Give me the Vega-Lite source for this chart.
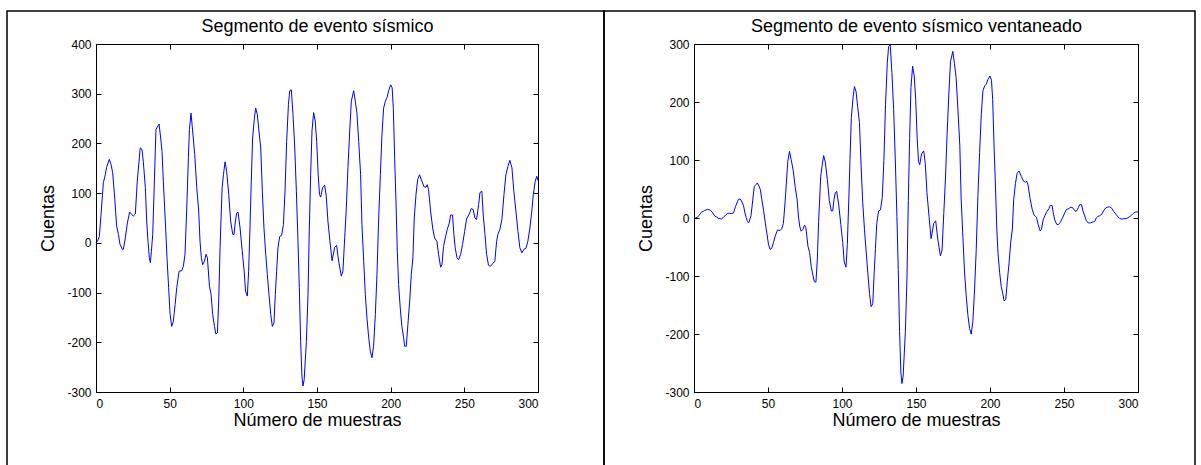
{
  "$schema": "https://vega.github.io/schema/vega-lite/v6.json",
  "padding": {"left": 6, "top": 10, "right": 1, "bottom": 0},
  "background": "white",
  "spacing": 0,
  "bounds": "flush",
  "datasets": {
    "raw": [
      {"n":0,"v":0},{"n":1,"v":3},{"n":2.3,"v":13},{"n":3.4,"v":57},{"n":5,"v":121},{"n":6.3,"v":137},{"n":7.2,"v":152},{"n":9,"v":168},{"n":10.2,"v":158},{"n":11.3,"v":141},{"n":12.7,"v":90},{"n":14,"v":34},{"n":15.2,"v":17},{"n":16.3,"v":-3},{"n":17.9,"v":-13},{"n":18.6,"v":-13},{"n":19.9,"v":10},{"n":21.3,"v":40},{"n":22.8,"v":62},{"n":24.2,"v":57},{"n":25.3,"v":54},{"n":26.7,"v":58},{"n":28,"v":124},{"n":29.4,"v":171},{"n":30,"v":191},{"n":31.2,"v":188},{"n":32.1,"v":164},{"n":33.5,"v":111},{"n":34.4,"v":44},{"n":35.3,"v":3},{"n":36.2,"v":-30},{"n":36.9,"v":-40},{"n":37.6,"v":-17},{"n":38.5,"v":17},{"n":39.4,"v":104},{"n":40.7,"v":228},{"n":42,"v":235},{"n":42.8,"v":239},{"n":43.9,"v":211},{"n":44.8,"v":184},{"n":45.7,"v":124},{"n":47.1,"v":40},{"n":48.2,"v":-30},{"n":49.3,"v":-90},{"n":50.3,"v":-144},{"n":51.4,"v":-168},{"n":52.5,"v":-158},{"n":53.7,"v":-124},{"n":54.8,"v":-90},{"n":56.4,"v":-57},{"n":58.2,"v":-56},{"n":59.3,"v":-47},{"n":60.4,"v":-23},{"n":61.6,"v":70},{"n":62.7,"v":171},{"n":63.4,"v":228},{"n":64.5,"v":261},{"n":65.6,"v":225},{"n":67,"v":178},{"n":68.4,"v":111},{"n":69.7,"v":64},{"n":70.6,"v":3},{"n":71.5,"v":-30},{"n":72.4,"v":-44},{"n":73.6,"v":-37},{"n":74.7,"v":-23},{"n":75.6,"v":-30},{"n":77,"v":-87},{"n":78.1,"v":-104},{"n":79.2,"v":-144},{"n":80.4,"v":-168},{"n":81.3,"v":-183},{"n":82.4,"v":-181},{"n":83.3,"v":-117},{"n":84.2,"v":-10},{"n":85.6,"v":111},{"n":86.5,"v":137},{"n":87.6,"v":163},{"n":88.7,"v":144},{"n":90.1,"v":97},{"n":91.4,"v":44},{"n":92.8,"v":17},{"n":93.7,"v":17},{"n":94.6,"v":44},{"n":95.5,"v":60},{"n":96.4,"v":62},{"n":97.8,"v":30},{"n":99.2,"v":-15},{"n":100.5,"v":-55},{"n":101.5,"v":-97},{"n":102.7,"v":-107},{"n":103.6,"v":-57},{"n":104.5,"v":30},{"n":105.4,"v":124},{"n":106.3,"v":211},{"n":107.5,"v":251},{"n":108.4,"v":271},{"n":109.5,"v":258},{"n":110.6,"v":225},{"n":111.8,"v":191},{"n":112.9,"v":104},{"n":114,"v":30},{"n":115.2,"v":-23},{"n":116.3,"v":-64},{"n":117.4,"v":-104},{"n":118.6,"v":-144},{"n":119.7,"v":-168},{"n":120.8,"v":-161},{"n":121.7,"v":-104},{"n":122.6,"v":-57},{"n":123.5,"v":-10},{"n":124.7,"v":13},{"n":126,"v":15},{"n":127.2,"v":37},{"n":128.3,"v":104},{"n":129.4,"v":204},{"n":130.6,"v":278},{"n":131.5,"v":306},{"n":132.6,"v":308},{"n":133.7,"v":258},{"n":134.9,"v":191},{"n":136,"v":104},{"n":137.1,"v":3},{"n":138,"v":-90},{"n":138.9,"v":-198},{"n":139.8,"v":-270},{"n":140.5,"v":-288},{"n":141.3,"v":-275},{"n":142.8,"v":-198},{"n":143.9,"v":-104},{"n":144.8,"v":30},{"n":145.7,"v":137},{"n":146.6,"v":225},{"n":147.7,"v":262},{"n":148.8,"v":245},{"n":149.8,"v":204},{"n":150.8,"v":137},{"n":151.7,"v":97},{"n":152.5,"v":92},{"n":153.8,"v":111},{"n":155.2,"v":116},{"n":156.3,"v":94},{"n":157.4,"v":44},{"n":158.8,"v":3},{"n":160.2,"v":-36},{"n":162,"v":-9},{"n":163.3,"v":-5},{"n":164.7,"v":-37},{"n":166.5,"v":-67},{"n":167.6,"v":-57},{"n":168.8,"v":10},{"n":169.9,"v":70},{"n":171,"v":151},{"n":172.2,"v":225},{"n":173.3,"v":285},{"n":174.9,"v":306},{"n":176,"v":285},{"n":177.1,"v":261},{"n":178.3,"v":204},{"n":179.6,"v":137},{"n":180.5,"v":37},{"n":181.7,"v":-37},{"n":182.8,"v":-104},{"n":183.9,"v":-151},{"n":185.1,"v":-191},{"n":186.2,"v":-218},{"n":187.3,"v":-231},{"n":188.4,"v":-208},{"n":189.6,"v":-144},{"n":190.7,"v":-64},{"n":191.8,"v":44},{"n":193,"v":137},{"n":194.1,"v":218},{"n":195.2,"v":271},{"n":196.4,"v":285},{"n":197.5,"v":292},{"n":198.6,"v":306},{"n":200,"v":318},{"n":201,"v":312},{"n":201.8,"v":271},{"n":202.7,"v":171},{"n":203.6,"v":84},{"n":204.5,"v":-17},{"n":205.4,"v":-84},{"n":206.5,"v":-131},{"n":207.6,"v":-168},{"n":208.8,"v":-191},{"n":209.5,"v":-208},{"n":210.6,"v":-208},{"n":211.7,"v":-164},{"n":212.9,"v":-117},{"n":214,"v":-64},{"n":215.1,"v":-30},{"n":216,"v":50},{"n":217.2,"v":97},{"n":218.3,"v":127},{"n":219.6,"v":137},{"n":221.2,"v":124},{"n":222.6,"v":113},{"n":224,"v":112},{"n":224.8,"v":117},{"n":225.7,"v":107},{"n":227.1,"v":64},{"n":228.5,"v":30},{"n":229.8,"v":10},{"n":231.4,"v":3},{"n":232.5,"v":-23},{"n":233.9,"v":-49},{"n":234.8,"v":-44},{"n":235.9,"v":-7},{"n":237.1,"v":10},{"n":238.4,"v":27},{"n":239.8,"v":40},{"n":240.7,"v":56},{"n":242,"v":56},{"n":242.9,"v":17},{"n":243.8,"v":-10},{"n":245,"v":-30},{"n":246.1,"v":-34},{"n":247.5,"v":-23},{"n":248.8,"v":-3},{"n":250.2,"v":23},{"n":251.5,"v":48},{"n":253.3,"v":58},{"n":254.7,"v":69},{"n":256,"v":67},{"n":257.2,"v":50},{"n":258.3,"v":47},{"n":259.7,"v":77},{"n":260.6,"v":101},{"n":261.9,"v":104},{"n":262.8,"v":57},{"n":264,"v":17},{"n":265.1,"v":-23},{"n":266.4,"v":-45},{"n":267.8,"v":-47},{"n":269.2,"v":-42},{"n":270.7,"v":-37},{"n":271.9,"v":3},{"n":272.8,"v":17},{"n":274.1,"v":27},{"n":275.5,"v":47},{"n":276.9,"v":97},{"n":278.2,"v":137},{"n":279.6,"v":154},{"n":280.9,"v":166},{"n":282.3,"v":151},{"n":283.6,"v":104},{"n":285,"v":64},{"n":286.4,"v":23},{"n":287.7,"v":-10},{"n":289.1,"v":-20},{"n":290.4,"v":-13},{"n":291.8,"v":-11},{"n":293.1,"v":3},{"n":294.5,"v":30},{"n":295.8,"v":64},{"n":296.8,"v":97},{"n":298.1,"v":124},{"n":299.2,"v":134},{"n":300,"v":125}
    ],
    "win": [
      {"n":0,"v":0},{"n":1,"v":0.2},{"n":2.3,"v":1},{"n":3.4,"v":4.6},{"n":5,"v":10},{"n":6.3,"v":11.5},{"n":7.2,"v":13},{"n":9,"v":14.8},{"n":10.2,"v":14.3},{"n":11.3,"v":13.1},{"n":12.7,"v":8.7},{"n":14,"v":3.4},{"n":15.2,"v":1.8},{"n":16.3,"v":-0.3},{"n":17.9,"v":-1.5},{"n":18.6,"v":-1.5},{"n":19.9,"v":1.2},{"n":21.3,"v":5},{"n":22.8,"v":8.2},{"n":24.2,"v":7.9},{"n":25.3,"v":7.7},{"n":26.7,"v":8.7},{"n":28,"v":19.5},{"n":29.4,"v":28.1},{"n":30,"v":32.1},{"n":31.2,"v":32.8},{"n":32.1,"v":29.6},{"n":33.5,"v":20.9},{"n":34.4,"v":8.6},{"n":35.3,"v":0.6},{"n":36.2,"v":-6.2},{"n":36.9,"v":-8.4},{"n":37.6,"v":-3.7},{"n":38.5,"v":3.8},{"n":39.4,"v":23.7},{"n":40.7,"v":54.1},{"n":42,"v":58},{"n":42.8,"v":60.4},{"n":43.9,"v":55.1},{"n":44.8,"v":49.3},{"n":45.7,"v":34.1},{"n":47.1,"v":11.4},{"n":48.2,"v":-8.9},{"n":49.3,"v":-27.4},{"n":50.3,"v":-45},{"n":51.4,"v":-54.1},{"n":52.5,"v":-52.3},{"n":53.7,"v":-42.4},{"n":54.8,"v":-31.6},{"n":56.4,"v":-20.8},{"n":58.2,"v":-21.4},{"n":59.3,"v":-18.4},{"n":60.4,"v":-9.2},{"n":61.6,"v":28.9},{"n":62.7,"v":72.3},{"n":63.4,"v":97.9},{"n":64.5,"v":114.8},{"n":65.6,"v":101.3},{"n":67,"v":82.5},{"n":68.4,"v":52.9},{"n":69.7,"v":31.3},{"n":70.6,"v":1.5},{"n":71.5,"v":-15.2},{"n":72.4,"v":-22.7},{"n":73.6,"v":-19.5},{"n":74.7,"v":-12.4},{"n":75.6,"v":-16.4},{"n":77,"v":-48.7},{"n":78.1,"v":-59.3},{"n":79.2,"v":-83.6},{"n":80.4,"v":-99.4},{"n":81.3,"v":-109.9},{"n":82.4,"v":-110.6},{"n":83.3,"v":-72.5},{"n":84.2,"v":-6.3},{"n":85.6,"v":71.2},{"n":86.5,"v":89},{"n":87.6,"v":107.6},{"n":88.7,"v":96.5},{"n":90.1,"v":66.3},{"n":91.4,"v":30.6},{"n":92.8,"v":12},{"n":93.7,"v":12.2},{"n":94.6,"v":31.8},{"n":95.5,"v":43.9},{"n":96.4,"v":45.8},{"n":97.8,"v":22.5},{"n":99.2,"v":-11.4},{"n":100.5,"v":-42.6},{"n":101.5,"v":-75.9},{"n":102.7,"v":-84.8},{"n":103.6,"v":-45.6},{"n":104.5,"v":24.2},{"n":105.4,"v":100.9},{"n":106.3,"v":173.1},{"n":107.5,"v":208.2},{"n":108.4,"v":226.6},{"n":109.5,"v":217.8},{"n":110.6,"v":191.7},{"n":111.8,"v":164.4},{"n":112.9,"v":90.3},{"n":114,"v":26.3},{"n":115.2,"v":-20.3},{"n":116.3,"v":-57},{"n":117.4,"v":-93.3},{"n":118.6,"v":-130.2},{"n":119.7,"v":-153},{"n":120.8,"v":-147.6},{"n":121.7,"v":-95.8},{"n":122.6,"v":-52.8},{"n":123.5,"v":-9.3},{"n":124.7,"v":12.2},{"n":126,"v":14.1},{"n":127.2,"v":35.1},{"n":128.3,"v":99.1},{"n":129.4,"v":195.4},{"n":130.6,"v":267.6},{"n":131.5,"v":295.6},{"n":132.6,"v":298.7},{"n":133.7,"v":251.2},{"n":134.9,"v":186.6},{"n":136,"v":102},{"n":137.1,"v":2.9},{"n":138,"v":-88.7},{"n":138.9,"v":-195.5},{"n":139.8,"v":-267.2},{"n":140.5,"v":-285.4},{"n":141.3,"v":-272.9},{"n":142.8,"v":-197},{"n":143.9,"v":-103.6},{"n":144.8,"v":29.9},{"n":145.7,"v":136.7},{"n":146.6,"v":224.7},{"n":147.7,"v":261.9},{"n":148.8,"v":245},{"n":149.8,"v":204},{"n":150.8,"v":137},{"n":151.7,"v":97},{"n":152.5,"v":91.9},{"n":153.8,"v":110.8},{"n":155.2,"v":115.7},{"n":156.3,"v":93.6},{"n":157.4,"v":43.8},{"n":158.8,"v":3},{"n":160.2,"v":-35.6},{"n":162,"v":-8.9},{"n":163.3,"v":-4.9},{"n":164.7,"v":-36.2},{"n":166.5,"v":-65.2},{"n":167.6,"v":-55.2},{"n":168.8,"v":9.6},{"n":169.9,"v":67.2},{"n":171,"v":144.4},{"n":172.2,"v":214},{"n":173.3,"v":269.7},{"n":174.9,"v":287.3},{"n":176,"v":266},{"n":177.1,"v":242.2},{"n":178.3,"v":188},{"n":179.6,"v":125.3},{"n":180.5,"v":33.6},{"n":181.7,"v":-33.4},{"n":182.8,"v":-93.1},{"n":183.9,"v":-134.2},{"n":185.1,"v":-168.3},{"n":186.2,"v":-190.5},{"n":187.3,"v":-200.2},{"n":188.4,"v":-178.7},{"n":189.6,"v":-122.5},{"n":190.7,"v":-53.9},{"n":191.8,"v":36.7},{"n":193,"v":113.1},{"n":194.1,"v":178.2},{"n":195.2,"v":219.2},{"n":196.4,"v":227.8},{"n":197.5,"v":230.8},{"n":198.6,"v":239.1},{"n":200,"v":244.9},{"n":201,"v":237.6},{"n":201.8,"v":204.6},{"n":202.7,"v":127.8},{"n":203.6,"v":62.1},{"n":204.5,"v":-12.4},{"n":205.4,"v":-60.8},{"n":206.5,"v":-93.5},{"n":207.6,"v":-118.3},{"n":208.8,"v":-132.4},{"n":209.5,"v":-142.8},{"n":210.6,"v":-140.8},{"n":211.7,"v":-109.3},{"n":212.9,"v":-76.7},{"n":214,"v":-41.3},{"n":215.1,"v":-19},{"n":216,"v":31.3},{"n":217.2,"v":59.6},{"n":218.3,"v":76.8},{"n":219.6,"v":81.1},{"n":221.2,"v":71.5},{"n":222.6,"v":63.6},{"n":224,"v":61.6},{"n":224.8,"v":63.4},{"n":225.7,"v":57.1},{"n":227.1,"v":33.3},{"n":228.5,"v":15.2},{"n":229.8,"v":4.9},{"n":231.4,"v":1.4},{"n":232.5,"v":-10.8},{"n":233.9,"v":-22.3},{"n":234.8,"v":-19.6},{"n":235.9,"v":-3.1},{"n":237.1,"v":4.2},{"n":238.4,"v":11.1},{"n":239.8,"v":16},{"n":240.7,"v":21.9},{"n":242,"v":21.3},{"n":242.9,"v":6.3},{"n":243.8,"v":-3.6},{"n":245,"v":-10.6},{"n":246.1,"v":-11.7},{"n":247.5,"v":-7.6},{"n":248.8,"v":-1},{"n":250.2,"v":7.1},{"n":251.5,"v":14.3},{"n":253.3,"v":16.4},{"n":254.7,"v":18.8},{"n":256,"v":17.5},{"n":257.2,"v":12.6},{"n":258.3,"v":11.5},{"n":259.7,"v":18},{"n":260.6,"v":23},{"n":261.9,"v":22.7},{"n":262.8,"v":12.1},{"n":264,"v":3.5},{"n":265.1,"v":-4.5},{"n":266.4,"v":-8.5},{"n":267.8,"v":-8.5},{"n":269.2,"v":-7.2},{"n":270.7,"v":-6.1},{"n":271.9,"v":0.5},{"n":272.8,"v":2.6},{"n":274.1,"v":3.9},{"n":275.5,"v":6.5},{"n":276.9,"v":12.9},{"n":278.2,"v":17.4},{"n":279.6,"v":18.7},{"n":280.9,"v":19.3},{"n":282.3,"v":16.8},{"n":283.6,"v":11.1},{"n":285,"v":6.6},{"n":286.4,"v":2.3},{"n":287.7,"v":-1},{"n":289.1,"v":-1.8},{"n":290.4,"v":-1.2},{"n":291.8,"v":-1},{"n":293.1,"v":0.3},{"n":294.5,"v":2.5},{"n":295.8,"v":5.2},{"n":296.8,"v":7.9},{"n":298.1,"v":10},{"n":299.2,"v":10.7},{"n":300,"v":10}
    ]
  },
  "hconcat": [
    {
      "width": 597,
      "height": 460,
      "data": {"name": "raw"},
      "layer": [
        {
          "mark": {"type": "line", "color": "#0000ff", "strokeWidth": 1},
          "encoding": {
            "x": {"field": "n", "type": "quantitative",
              "scale": {"domain": [0, 300], "range": [89, 531], "nice": false, "zero": false},
              "axis": {"orient": "bottom", "offset": -79, "values": [0, 50, 100, 150, 200, 250, 300], "title": "Número de muestras", "labelPadding": 11, "titlePadding": 2}},
            "y": {"field": "v", "type": "quantitative",
              "scale": {"domain": [-300, 400], "range": [381, 33], "nice": false, "zero": false},
              "axis": {"orient": "left", "offset": -89, "values": [-300, -200, -100, 0, 100, 200, 300, 400], "title": "Cuentas", "labelExpr": "'' + datum.value", "labelPadding": 10, "titlePadding": 9}}
          }
        },
        {
          "mark": {"type": "line", "opacity": 0},
          "encoding": {
            "x": {"field": "n", "type": "quantitative",
              "axis": {"orient": "top", "offset": -33, "labels": false, "values": [0, 50, 100, 150, 200, 250, 300], "title": "Segmento de evento sísmico", "titleFontSize": 18, "titlePadding": 8}},
            "y": {"field": "v", "type": "quantitative",
              "axis": {"orient": "right", "offset": -66, "labels": false, "values": [-300, -200, -100, 0, 100, 200, 300, 400], "title": null}}
          }
        }
      ],
      "resolve": {"axis": {"x": "independent", "y": "independent"}}
    },
    {
      "width": 591,
      "height": 460,
      "data": {"name": "win"},
      "layer": [
        {
          "mark": {"type": "line", "color": "#0000ff", "strokeWidth": 1},
          "encoding": {
            "x": {"field": "n", "type": "quantitative",
              "scale": {"domain": [0, 300], "range": [90, 534], "nice": false, "zero": false},
              "axis": {"orient": "bottom", "offset": -79, "values": [0, 50, 100, 150, 200, 250, 300], "title": "Número de muestras", "labelPadding": 11, "titlePadding": 2}},
            "y": {"field": "v", "type": "quantitative",
              "scale": {"domain": [-300, 300], "range": [381, 33], "nice": false, "zero": false},
              "axis": {"orient": "left", "offset": -90, "values": [-300, -200, -100, 0, 100, 200, 300], "title": "Cuentas", "labelExpr": "'' + datum.value", "labelPadding": 10, "titlePadding": 9}}
          }
        },
        {
          "mark": {"type": "line", "opacity": 0},
          "encoding": {
            "x": {"field": "n", "type": "quantitative",
              "axis": {"orient": "top", "offset": -33, "labels": false, "values": [0, 50, 100, 150, 200, 250, 300], "title": "Segmento de evento sísmico ventaneado", "titleFontSize": 18, "titlePadding": 8}},
            "y": {"field": "v", "type": "quantitative",
              "axis": {"orient": "right", "offset": -57, "labels": false, "values": [-300, -200, -100, 0, 100, 200, 300], "title": null}}
          }
        }
      ],
      "resolve": {"axis": {"x": "independent", "y": "independent"}}
    }
  ],
  "config": {
    "font": "Liberation Sans",
    "view": {"stroke": "black", "strokeWidth": 1.5},
    "axis": {
      "grid": false,
      "domainColor": "black",
      "domainWidth": 1,
      "tickColor": "black",
      "tickWidth": 1,
      "tickSize": -5,
      "labelColor": "black",
      "labelFont": "Liberation Sans",
      "labelFontSize": 12,
      "titleColor": "black",
      "titleFont": "Liberation Sans",
      "titleFontSize": 18,
      "titleFontWeight": "normal"
    }
  }
}
